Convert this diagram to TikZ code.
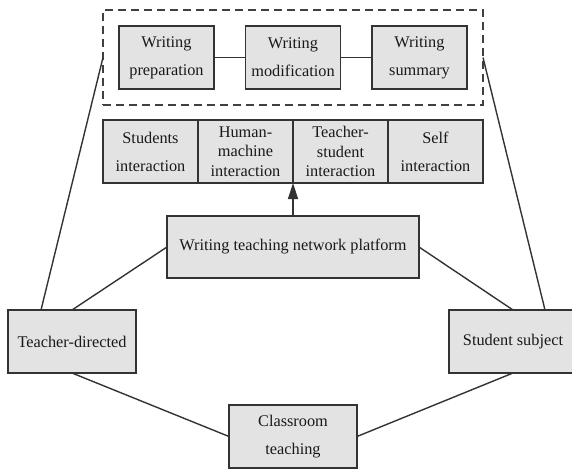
\documentclass[tikz,border=0pt]{standalone}
\usepackage{fontspec}
\setmainfont{Liberation Serif}
\usetikzlibrary{positioning}
\usetikzlibrary{arrows.meta}

\begin{document}
\begin{tikzpicture}[x=1pt, y=-1pt,
    box/.style={draw=black!80, fill=black!11, line width=1.5pt, text=black!90,
        minimum width=95pt, minimum height=63pt, inner sep=0pt, outer sep=0pt,
        align=center, font=\fontsize{16.3}{19.5}\selectfont},
    link/.style={draw=black!80, line width=1.4pt}]
    \useasboundingbox (0,0) rectangle (572,468);

    % writing stages
    \node[draw=black!75, line width=1.7pt, dash pattern=on 8pt off 5pt,
        minimum width=380pt, minimum height=95pt, inner sep=0pt, outer sep=0pt] (frame) at (293,57.5) {};
    \node[box] (prep) at (166.5,57.5) {Writing\\[8.5pt]preparation};
    \node[box, right=31.5pt of prep] (modif) {Writing\\[8.5pt]modification};
    \node[box, right=31.5pt of modif] (summ) {Writing\\[8.5pt]summary};

    % interaction row
    \node[box] (inter_1) at (150.5,151.5) {Students\\[8.5pt]interaction};
    \node[box, right=0pt of inter_1] (inter_2) {Human-\\machine\\interaction};
    \node[box, right=0pt of inter_2] (inter_3) {Teacher-\\student\\interaction};
    \node[box, right=0pt of inter_3] (inter_4) {Self\\[8.5pt]interaction};

    \node[box, minimum width=252pt, minimum height=62pt] (platform) at (293,247) {Writing teaching network platform};
    \node[box, minimum width=128pt] (teacher) at (72,341.5) {Teacher-directed};
    \node[box, minimum width=128pt] (student) at (513,341.5) {Student subject};
    \node[box, minimum width=128pt] (classroom) at (293,436.5) {Classroom\\[8.5pt]teaching};

    \draw[link] (prep) -- (modif);
    \draw[link] (modif) -- (summ);
    \draw[link, -{Triangle[length=16pt, width=10pt]}] (platform.north) -- (inter_3.south west);

    \draw[link] ([xshift=-31pt]teacher.north) -- (frame.west);
    \draw[link] ([xshift=32pt]student.north) -- (frame.east);
    \draw[link] (teacher.north) -- (platform.west);
    \draw[link] (student.north) -- (platform.east);
    \draw[link] (teacher.south) -- (classroom.west);
    \draw[link] (student.south) -- (classroom.east);
\end{tikzpicture}
\end{document}
